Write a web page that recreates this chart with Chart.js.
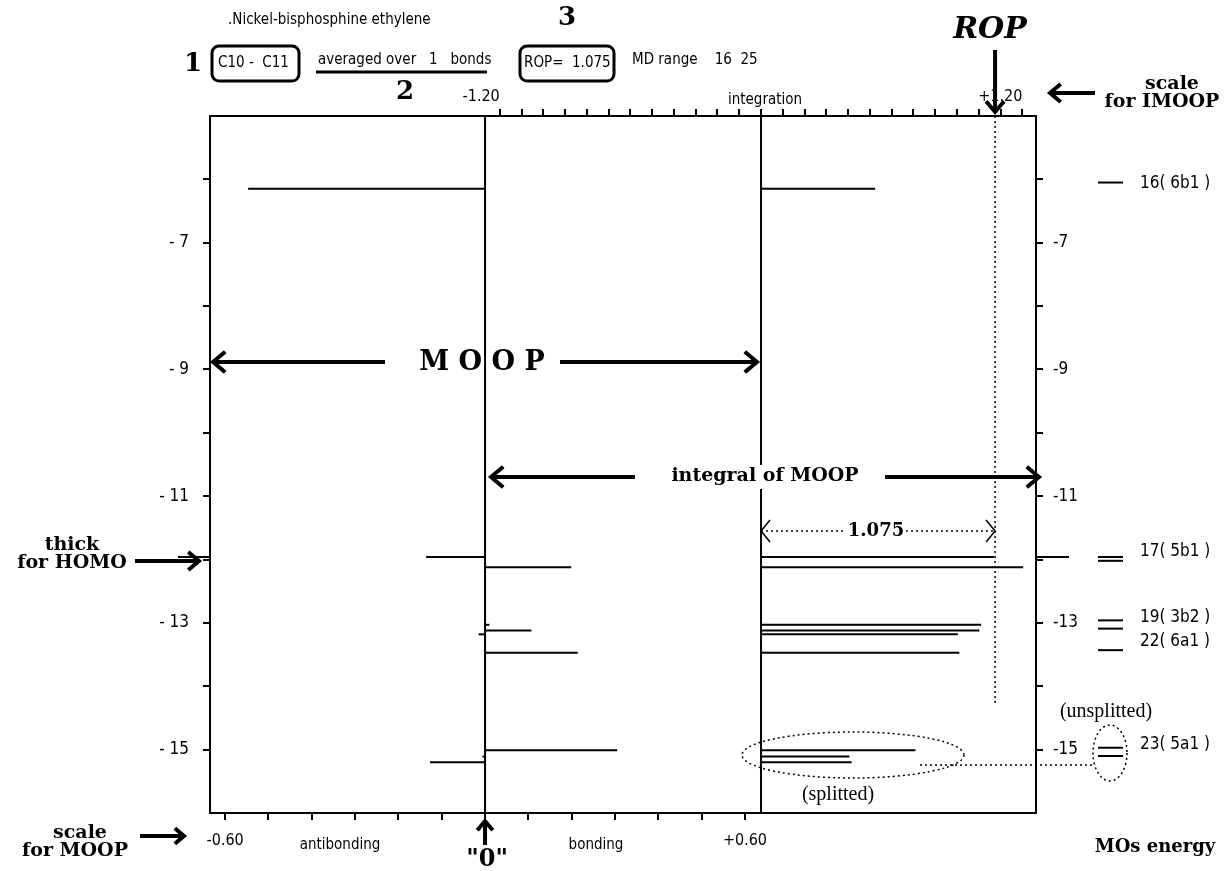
<!DOCTYPE html>
<html>
<head>
<meta charset="utf-8">
<script src="https://cdn.jsdelivr.net/npm/chart.js@4"></script>
<style>
html, body { margin: 0; padding: 0; background: #fff; }
</style>
</head>
<body>
<canvas id="myChart" width="1226" height="871"></canvas>
<script>
// level energies (eV) and what each level gives
const levelEnergy = [-6.15, -11.96, -12.12, -13.03, -13.12, -13.18, -13.47, -15.01, -15.11, -15.20];
const moopValue = [-0.547, -0.136, 0.199, 0.010, 0.107, -0.015, 0.214, 0.305, -0.006, -0.127];
const integralValue = [0.524, 1.070, 1.204, 1.011, 1.003, 0.904, 0.911, 0.709, 0.406, 0.416];

// MO energy column on the right
const moEnergy = [-6.05, -11.96, -12.02, -12.96, -13.09, -13.43, -14.97, -15.10];
const moLabel = ['16( 6b1 )', '17( 5b1 )', '19( 3b2 )', '22( 6a1 )', '23( 5a1 )'];
const moLabelEnergy = [-6.07, -11.87, -12.92, -13.30, -14.92];

const homoEnergy = -11.96;
const rop = 1.075;
const ropEnd = -14.31;

const yTicks = [-6, -7, -8, -9, -10, -11, -12, -13, -14, -15];
const moopTicks = [-0.6, -0.5, -0.4, -0.3, -0.2, -0.1, 0, 0.1, 0.2, 0.3, 0.4, 0.5, 0.6];
const integTicks = [];
for (let i = -12; i <= 12; i++) integTicks.push(i / 10);

const PIX = '"Liberation Sans Narrow", "DejaVu Sans Condensed", sans-serif';
const SERIF = '"DejaVu Serif", "Liberation Serif", serif';


function levelSets(values, axis) {
    const sets = [];
    for (let i = 0; i < levelEnergy.length; i++) {
        sets.push({
            data: [{x: 0, y: levelEnergy[i]}, {x: values[i], y: levelEnergy[i]}],
            xAxisID: axis,
            yAxisID: 'y',
            showLine: true,
            borderColor: '#000',
            borderWidth: 2,
            pointRadius: 0
        });
    }
    return sets;
}

const datasets = levelSets(moopValue, 'x').concat(levelSets(integralValue, 'x2'));
datasets.push({
    data: [{x: rop, y: -5}, {x: rop, y: ropEnd}],
    xAxisID: 'x2',
    yAxisID: 'y',
    showLine: true,
    borderColor: '#000',
    borderWidth: 1.5,
    borderDash: [2, 3],
    pointRadius: 0
});


function arrow(ctx, x1, y1, x2, y2, lw, head) {
    const a = Math.atan2(y2 - y1, x2 - x1);
    ctx.lineWidth = lw;
    ctx.beginPath();
    ctx.moveTo(x1, y1);
    ctx.lineTo(x2, y2);
    ctx.stroke();
    ctx.beginPath();
    ctx.moveTo(x2 - head * Math.cos(a - 0.7), y2 - head * Math.sin(a - 0.7));
    ctx.lineTo(x2, y2);
    ctx.lineTo(x2 - head * Math.cos(a + 0.7), y2 - head * Math.sin(a + 0.7));
    ctx.stroke();
}

function text(ctx, s, x, y, font, align) {
    ctx.font = font;
    ctx.textAlign = align || 'center';
    ctx.textBaseline = 'middle';
    ctx.fillText(s, x, y);
}

function box(ctx, x, y, w, h) {
    ctx.lineWidth = 3;
    ctx.beginPath();
    ctx.roundRect(x, y, w, h, 7);
    ctx.stroke();
}

const annotate = {
    id: 'annotate',
    beforeDatasetsDraw(chart) {
        const ctx = chart.ctx;
        const a = chart.chartArea;
        ctx.save();
        ctx.strokeStyle = '#000';
        ctx.lineWidth = 2;
        const z1 = chart.scales.x.getPixelForValue(0);
        const z2 = chart.scales.x2.getPixelForValue(0);
        ctx.beginPath();
        ctx.moveTo(z1, a.top); ctx.lineTo(z1, a.bottom);
        ctx.moveTo(z2, a.top); ctx.lineTo(z2, a.bottom);
        ctx.stroke();
        ctx.restore();
    },
    afterDraw(chart) {
        const ctx = chart.ctx;
        const a = chart.chartArea;
        const ys = chart.scales.y;
        const x2 = chart.scales.x2;
        ctx.save();
        ctx.fillStyle = '#000';
        ctx.strokeStyle = '#000';
        ctx.lineCap = 'butt';

        // header
        text(ctx, '.Nickel-bisphosphine ethylene', 228, 20, '15px ' + PIX, 'left');
        text(ctx, '1', 193, 64, 'bold 26px ' + SERIF);
        box(ctx, 212, 46, 87, 35);
        text(ctx, 'C10 -  C11', 218, 63, '15px ' + PIX, 'left');
        text(ctx, 'averaged over   1   bonds', 318, 60, '15px ' + PIX, 'left');
        ctx.lineWidth = 3;
        ctx.beginPath(); ctx.moveTo(316, 72); ctx.lineTo(487, 72); ctx.stroke();
        text(ctx, '2', 405, 92, 'bold 26px ' + SERIF);
        text(ctx, '3', 567, 18, 'bold 26px ' + SERIF);
        box(ctx, 520, 46, 94, 35);
        text(ctx, 'ROP=  1.075', 524, 63, '15px ' + PIX, 'left');
        text(ctx, 'MD range    16  25', 632, 60, '15px ' + PIX, 'left');
        text(ctx, 'integration', 765, 100, '15px ' + PIX);

        // ROP arrow and IMOOP scale
        text(ctx, 'ROP', 990, 30, 'italic bold 30px ' + SERIF);
        arrow(ctx, x2.getPixelForValue(rop), 50, x2.getPixelForValue(rop), 112, 4, 14);
        arrow(ctx, 1095, 93, 1050, 93, 4, 14);
        text(ctx, 'scale', 1172, 84, 'bold 19px ' + SERIF);
        text(ctx, 'for IMOOP', 1162, 102, 'bold 19px ' + SERIF);

        // MOOP arrows
        arrow(ctx, 385, 362, 213, 362, 4, 16);
        arrow(ctx, 560, 362, 757, 362, 4, 16);
        text(ctx, 'M O O P', 482, 363, 'bold 27px ' + SERIF);

        // integral of MOOP
        arrow(ctx, 635, 477, 491, 477, 4, 16);
        arrow(ctx, 885, 477, 1039, 477, 4, 16);
        ctx.font = 'bold 19px ' + SERIF;
        let w = ctx.measureText('integral of MOOP').width;
        ctx.fillStyle = '#fff';
        ctx.fillRect(765 - w / 2 - 3, 465, w + 6, 24);
        ctx.fillStyle = '#000';
        text(ctx, 'integral of MOOP', 765, 476, 'bold 19px ' + SERIF);

        // ROP value marker
        const yr = ys.getPixelForValue(-11.55);
        const z2 = x2.getPixelForValue(0);
        const xr = x2.getPixelForValue(rop);
        ctx.setLineDash([2, 3]);
        ctx.lineWidth = 1.5;
        ctx.beginPath(); ctx.moveTo(z2, yr); ctx.lineTo(xr, yr); ctx.stroke();
        ctx.setLineDash([]);
        ctx.lineWidth = 1.5;
        ctx.beginPath();
        ctx.moveTo(z2 + 9, yr - 11); ctx.lineTo(z2, yr); ctx.lineTo(z2 + 9, yr + 11);
        ctx.moveTo(xr - 9, yr - 11); ctx.lineTo(xr, yr); ctx.lineTo(xr - 9, yr + 11);
        ctx.stroke();
        ctx.font = 'bold 18px ' + SERIF;
        w = ctx.measureText('1.075').width;
        ctx.fillStyle = '#fff';
        ctx.fillRect(876 - w / 2 - 2, yr - 9, w + 4, 18);
        ctx.fillStyle = '#000';
        text(ctx, '1.075', 876, yr, 'bold 18px ' + SERIF);

        // HOMO markers outside frame
        const yh = ys.getPixelForValue(homoEnergy);
        ctx.lineWidth = 2;
        ctx.beginPath();
        ctx.moveTo(178, yh); ctx.lineTo(a.left, yh);
        ctx.moveTo(a.right, yh); ctx.lineTo(a.right + 33, yh);
        ctx.stroke();
        text(ctx, 'thick', 72, 545, 'bold 19px ' + SERIF);
        text(ctx, 'for HOMO', 72, 563, 'bold 19px ' + SERIF);
        arrow(ctx, 135, 561, 199, 561, 4, 14);

        // MO energy column
        ctx.lineWidth = 2;
        for (const e of moEnergy) {
            const y = ys.getPixelForValue(e);
            ctx.beginPath(); ctx.moveTo(1098, y); ctx.lineTo(1123, y); ctx.stroke();
        }
        for (let i = 0; i < moLabel.length; i++) {
            text(ctx, moLabel[i], 1140, ys.getPixelForValue(moLabelEnergy[i]), '17px ' + PIX, 'left');
        }

        // splitted / unsplitted
        ctx.setLineDash([2, 3]);
        ctx.lineWidth = 1.5;
        ctx.beginPath(); ctx.ellipse(853, 755, 111, 23, 0, 0, Math.PI * 2); ctx.stroke();
        ctx.beginPath(); ctx.ellipse(1110, 753, 17, 28, 0, 0, Math.PI * 2); ctx.stroke();
        ctx.beginPath(); ctx.moveTo(920, 765); ctx.lineTo(1094, 765); ctx.stroke();
        ctx.setLineDash([]);
        text(ctx, '(unsplitted)', 1106, 712, '20px "Liberation Serif", serif');
        text(ctx, '(splitted)', 838, 795, '20px "Liberation Serif", serif');

        // bottom annotations
        text(ctx, 'antibonding', 340, 845, '15px ' + PIX);
        text(ctx, 'bonding', 596, 845, '15px ' + PIX);
        const z1 = chart.scales.x.getPixelForValue(0);
        arrow(ctx, z1, 845, z1, 821, 4, 12);
        text(ctx, '"0"', z1 + 2, 860, 'bold 24px ' + SERIF);
        text(ctx, 'scale', 80, 833, 'bold 19px ' + SERIF);
        text(ctx, 'for MOOP', 75, 851, 'bold 19px ' + SERIF);
        arrow(ctx, 140, 836, 184, 836, 4, 12);
        text(ctx, 'MOs energy', 1155, 847, 'bold 18px ' + SERIF);

        ctx.restore();
    }
};

function tickAxis(ticks) {
    return function (scale) {
        scale.ticks = ticks.map(v => ({value: v}));
    };
}

const gridOut = {drawOnChartArea: false, drawTicks: true, tickLength: 7, color: '#000', lineWidth: 2};
const edge = {display: true, color: '#000', width: 2};

const config = {
    type: 'scatter',
    data: {datasets: datasets},
    options: {
        responsive: false,
        animation: false,
        layout: {padding: {left: 150, right: 130, top: 76, bottom: 0}},
        plugins: {legend: {display: false}, tooltip: {enabled: false}},
        scales: {
            x: {
                type: 'linear', position: 'bottom', min: -0.635, max: 1.272,
                afterBuildTicks: tickAxis(moopTicks),
                afterFit: s => { s.height = 58; },
                grid: gridOut, border: edge,
                ticks: {
                    autoSkip: false, maxRotation: 0, color: '#000', padding: 11,
                    font: {family: PIX, size: 16},
                    callback: v => v === -0.6 ? '-0.60' : (v === 0.6 ? '+0.60' : '')
                }
            },
            x2: {
                type: 'linear', position: 'top', min: -2.531, max: 1.263,
                afterBuildTicks: tickAxis(integTicks),
                afterFit: s => { s.height = 40; },
                grid: gridOut, border: edge,
                ticks: {
                    autoSkip: false, maxRotation: 0, color: '#000', padding: 3, align: 'end',
                    font: {family: PIX, size: 16},
                    callback: v => v === -1.2 ? '-1.20' : (v === 1.2 ? '+1.20' : '')
                }
            },
            y: {
                type: 'linear', position: 'left', min: -16, max: -5,
                afterBuildTicks: tickAxis(yTicks),
                afterFit: s => { s.width = 60; },
                grid: gridOut, border: edge,
                ticks: {
                    autoSkip: false, color: '#000', padding: 14,
                    font: {family: PIX, size: 17},
                    callback: v => v % 2 ? '- ' + (-v) : ''
                }
            },
            y2: {
                type: 'linear', position: 'right', min: -16, max: -5,
                afterBuildTicks: tickAxis(yTicks),
                afterFit: s => { s.width = 60; },
                grid: gridOut, border: edge,
                ticks: {
                    autoSkip: false, color: '#000', padding: 10,
                    font: {family: PIX, size: 17},
                    callback: v => v % 2 ? '-' + (-v) : ''
                }
            }
        }
    },
    plugins: [annotate]
};

const myChart = new Chart(document.getElementById('myChart'), config);
</script>
</body>
</html>
